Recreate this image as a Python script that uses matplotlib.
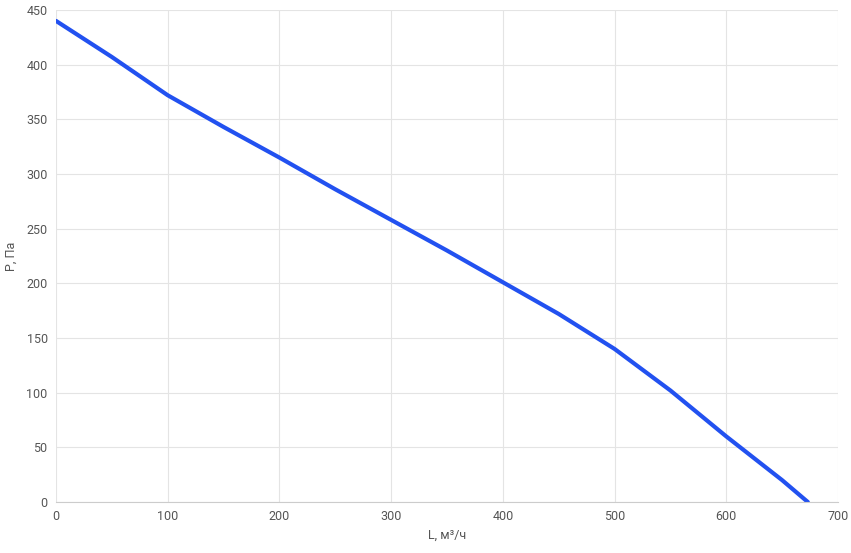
import matplotlib
matplotlib.use('Agg')
import matplotlib.pyplot as plt

# расход, м³/ч и давление, Па
flow = [0, 50, 100, 150, 200, 250, 300, 350, 400, 450, 500, 550, 600, 650, 673]
pressure = [440, 407, 372, 343, 315, 286, 258, 230, 201, 172, 140, 102, 60, 20, 0]

plt.rcParams['font.family'] = ['Roboto', 'DejaVu Sans']

fig = plt.figure(figsize=(8.51, 5.53), dpi=100)
ax = fig.add_axes([0.0658, 0.0922, 0.9189, 0.8898])

ax.plot(flow, pressure, color='#2251f0', linewidth=3, solid_capstyle='round')

ax.set_xlim(0, 700)
ax.set_ylim(0, 450)
ax.set_xticks(range(0, 701, 100))
ax.set_yticks(range(0, 451, 50))
ax.grid(True, color='#e4e4e4', linewidth=0.8)
ax.set_axisbelow(True)

for s in ['top', 'right', 'left']:
    ax.spines[s].set_visible(False)
ax.spines['bottom'].set_color('#cccccc')
ax.tick_params(length=0, labelsize=9, colors='#555555', pad=6)

ax.set_xlabel('L, м³/ч', fontsize=9, color='#555555', labelpad=4)
ax.set_ylabel('P, Па', fontsize=9, color='#555555', labelpad=6)

fig.savefig('out.png', dpi=100)
